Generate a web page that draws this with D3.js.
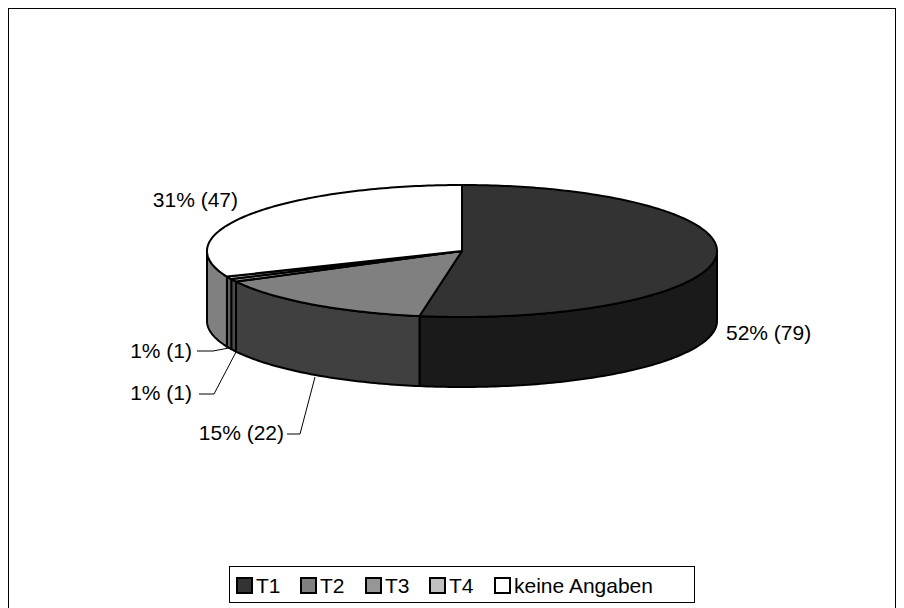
<!DOCTYPE html>
<html>
<head>
<meta charset="utf-8">
<script src="https://cdnjs.cloudflare.com/ajax/libs/d3/7.8.5/d3.min.js"></script>
<style>
html,body{margin:0;padding:0;background:#fff}
svg{display:block}
text{font-family:"Liberation Sans",Arial,sans-serif;font-size:21px;fill:#000}
</style>
</head>
<body>
<svg id="chart" width="904" height="608"></svg>
<script>
// Category names and respondent counts, clockwise from twelve o'clock
const categories = ["T1", "T2", "T3", "T4", "keine Angaben"];
const counts = [79, 22, 1, 1, 47];
const percentLabels = ["52%", "15%", "1%", "1%", "31%"];
const topColors = ["#333333", "#808080", "#969696", "#c0c0c0", "#ffffff"];
const sideColors = ["#1a1a1a", "#404040", "#4b4b4b", "#606060", "#808080"];

const width = 904, height = 608;
const cx = 462, cy = 251, rx = 255, ry = 66, depth = 70;

const svg = d3.select("#chart");

// Chart frame
svg.append("rect").attr("x", 8.5).attr("y", 8.5)
  .attr("width", 887).attr("height", 640)
  .attr("fill", "#fff").attr("stroke", "#000").attr("stroke-width", 1);

const slices = d3.pie().value(d => d).sort(null)(counts)
  .map((s, i) => ({...s, i}));

// Project a pie angle on to the tilted ellipse
const px = a => cx + rx * Math.sin(a);
const py = (a, dz = 0) => cy - ry * Math.cos(a) + dz;

function ellipseArc(a0, a1, dz) {
  const path = d3.path();
  const n = Math.max(2, Math.ceil(Math.abs(a1 - a0) * 60));
  d3.range(n + 1).forEach(k => {
    const a = a0 + (a1 - a0) * k / n;
    k ? path.lineTo(px(a), py(a, dz)) : path.moveTo(px(a), py(a, dz));
  });
  return path.toString();
}

function sidePath(a0, a1) {
  const n = Math.max(2, Math.ceil(Math.abs(a1 - a0) * 60));
  const pts = [];
  d3.range(n + 1).forEach(k => { const a = a0 + (a1 - a0) * k / n; pts.push([px(a), py(a)]); });
  d3.range(n + 1).forEach(k => { const a = a1 - (a1 - a0) * k / n; pts.push([px(a), py(a, depth)]); });
  return d3.line()(pts) + "Z";
}

const outline = {stroke: "#000", "stroke-width": 2, "stroke-linejoin": "round"};
const applyOutline = sel => Object.entries(outline).forEach(([k, v]) => sel.attr(k, v));

// Outer wall: only the part facing the viewer (angles from 90° round to 270°)
const wallStart = Math.PI / 2, wallEnd = 3 * Math.PI / 2;
slices.forEach(s => {
  const a0 = Math.max(s.startAngle, wallStart), a1 = Math.min(s.endAngle, wallEnd);
  if (a1 <= a0) return;
  svg.append("path").attr("d", sidePath(a0, a1)).attr("fill", sideColors[s.i]).call(applyOutline);
});

// Top faces of the slices
slices.forEach(s => {
  const d = `M${cx},${cy}L` + ellipseArc(s.startAngle, s.endAngle, 0).slice(1) + "Z";
  svg.append("path").attr("d", d).attr("fill", topColors[s.i]).call(applyOutline);
});

// Value labels with their leader lines
const labelPos = [
  {x: 726, y: 340, anchor: "start"},
  {x: 284, y: 440, anchor: "end", leader: [[287, 434], [300, 434], [315, 377]]},
  {x: 192, y: 400, anchor: "end", leader: [[199, 394], [214, 394], [236, 352]]},
  {x: 192, y: 358, anchor: "end", leader: [[197, 351], [213, 351], [229, 348]]},
  {x: 238, y: 207, anchor: "end"}
];
slices.forEach(s => {
  const p = labelPos[s.i];
  if (p.leader) {
    svg.append("path").attr("d", d3.line()(p.leader))
      .attr("fill", "none").attr("stroke", "#000").attr("stroke-width", 1);
  }
  svg.append("text").attr("x", p.x).attr("y", p.y).attr("text-anchor", p.anchor)
    .text(`${percentLabels[s.i]} (${counts[s.i]})`);
});

// Legend box
const legendX = d3.scalePoint().domain(categories).range([0, 1]);
svg.append("rect").attr("x", 229.5).attr("y", 566.5).attr("width", 465).attr("height", 36)
  .attr("fill", "#fff").attr("stroke", "#000").attr("stroke-width", 1);
const legendOffsets = [237, 301, 366, 430, 495];
categories.forEach((c, i) => {
  const x = legendOffsets[i];
  svg.append("rect").attr("x", x).attr("y", 578).attr("width", 15).attr("height", 15)
    .attr("fill", topColors[i]).attr("stroke", "#000").attr("stroke-width", 2);
  svg.append("text").attr("x", x + 19).attr("y", 593).text(c);
});
</script>
</body>
</html>
